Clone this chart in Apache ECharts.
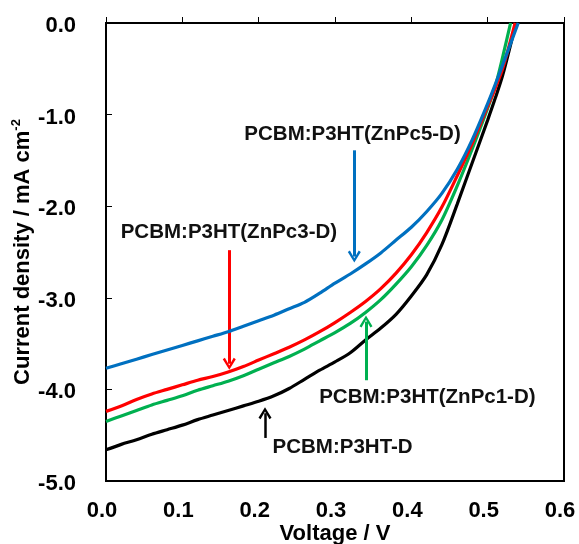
<!DOCTYPE html>
<html>
<head>
<meta charset="utf-8">
<script src="https://cdn.jsdelivr.net/npm/echarts@6/dist/echarts.min.js"></script>
<style>html,body{margin:0;padding:0;background:#fff}#c{width:579px;height:544px}</style>
</head>
<body>
<div id="c"></div>
<script>
// Voltage grid (V)
const voltage = [0,0.02,0.04,0.06,0.08,0.10,0.12,0.14,0.16,0.18,0.20,0.22,0.24,0.26,0.28,0.30,0.32,0.34,0.36,0.38,0.40,0.42,0.44,0.46,0.48,0.50,0.51,0.52];
// Current density (mA cm-2)
const jZnPc5 = [-3.77,-3.72,-3.67,-3.62,-3.57,-3.52,-3.47,-3.42,-3.37,-3.31,-3.25,-3.19,-3.12,-3.05,-2.95,-2.84,-2.74,-2.63,-2.51,-2.37,-2.23,-2.06,-1.86,-1.60,-1.27,-0.88,-0.67,-0.45];
const jZnPc3 = [-4.24,-4.18,-4.11,-4.05,-4.00,-3.95,-3.90,-3.86,-3.81,-3.75,-3.68,-3.61,-3.54,-3.46,-3.37,-3.27,-3.16,-3.04,-2.90,-2.73,-2.53,-2.29,-2.01,-1.67,-1.31,-0.91,-0.71,-0.49];
const jZnPc1 = [-4.35,-4.29,-4.23,-4.17,-4.12,-4.07,-4.01,-3.96,-3.91,-3.85,-3.78,-3.71,-3.64,-3.56,-3.47,-3.38,-3.28,-3.16,-3.02,-2.85,-2.66,-2.43,-2.15,-1.78,-1.37,-0.93,-0.69,-0.36];
const jP3HT  = [-4.66,-4.60,-4.55,-4.49,-4.44,-4.39,-4.33,-4.28,-4.23,-4.18,-4.13,-4.07,-3.99,-3.89,-3.79,-3.70,-3.60,-3.46,-3.33,-3.18,-2.98,-2.75,-2.42,-1.98,-1.52,-1.06,-0.82,-0.56];
// open-circuit voltages (J = 0)
const vocZnPc5 = 0.540, vocZnPc3 = 0.536, vocZnPc1 = 0.530, vocP3HT = 0.537;

const seriesNames = ['PCBM:P3HT-D','PCBM:P3HT(ZnPc1-D)','PCBM:P3HT(ZnPc3-D)','PCBM:P3HT(ZnPc5-D)'];
const seriesColors = ['#000000','#00B050','#FF0000','#0070C0'];

// annotation labels (data coordinates)
const labelText = ['PCBM:P3HT(ZnPc5-D)','PCBM:P3HT(ZnPc3-D)','PCBM:P3HT(ZnPc1-D)','PCBM:P3HT-D'];
const labelV = [0.323, 0.161, 0.421, 0.310];
const labelJ = [-1.22, -2.29, -4.09, -4.63];
// arrows: start and tip in data coordinates
const arrowV = [0.3253, 0.1615, 0.3406, 0.2083];
const arrowJStart = [-1.39, -2.48, -3.90, -4.53];
const arrowJTip = [-2.55, -3.72, -3.26, -4.26];
const arrowColors = ['#0070C0','#FF0000','#00B050','#000000'];

const xTicks = [0,0.1,0.2,0.3,0.4,0.5,0.6];
const yTicks = [0,-1,-2,-3,-4,-5];

function pairs(j, voc){
  const d = voltage.map((v,i)=>[v,j[i]]);
  d.push([voc,0]);
  return d;
}
const allJ = [jP3HT, jZnPc1, jZnPc3, jZnPc5];
const allVoc = [vocP3HT, vocZnPc1, vocZnPc3, vocZnPc5];

const chevron = 'path://M5,0 L10,9 L8.4,10.2 L5,3.6 L1.6,10.2 L0,9 Z';
const FONT = 'Liberation Sans, Arial, sans-serif';

const series = allJ.map((j,k)=>({
  type:'line', name:seriesNames[k], data:pairs(j, allVoc[k]),
  showSymbol:false, smooth:0.3, clip:true,
  lineStyle:{color:seriesColors[k], width:3.2},
  z: 3+k
}));

series.push({
  type:'scatter', symbolSize:0, silent:true, z:10,
  itemStyle:{color:'#000', opacity:1},
  data: labelText.map((t,i)=>({value:[labelV[i],labelJ[i]], name:t})),
  label:{show:true, position:'inside', formatter:p=>p.name,
    fontFamily:FONT, fontWeight:'bold', fontSize:20.5, color:'#111',
    textBorderWidth:0, textBorderColor:'transparent', opacity:1},
  markLine:{
    silent:true, symbol:['none', chevron], symbolSize:[13,12],
    label:{show:false},
    data: arrowV.map((v,i)=>[
      {coord:[v,arrowJStart[i]], lineStyle:{color:arrowColors[i], width: i===3?2.5:3, type:'solid', opacity:1}, itemStyle:{color:arrowColors[i]}},
      {coord:[v,arrowJTip[i]]}
    ])
  }
});

const chart = echarts.init(document.getElementById('c'), null, {renderer:'canvas'});
chart.setOption({
  animation:false,
  backgroundColor:'#ffffff',
  grid:{left:106, right:15, top:23, bottom:63, outerBoundsMode:'none', containLabel:false,
    show:true, borderColor:'#000', borderWidth:2, backgroundColor:'transparent'},
  xAxis:{
    type:'value', min:0, max:0.6, interval:0.1,
    name:'Voltage / V', nameLocation:'middle', nameGap:42, nameMoveOverlap:false,
    nameTextStyle:{fontFamily:FONT, fontWeight:'bold', fontSize:22, color:'#000'},
    axisLine:{show:true, lineStyle:{color:'#000', width:2}},
    axisTick:{show:true, inside:true, length:6, lineStyle:{color:'#000', width:1}},
    splitLine:{show:false},
    axisLabel:{margin:19, padding:[0,8,0,0], fontFamily:FONT, fontWeight:'bold', fontSize:22, color:'#000',
      formatter:v=>{const t=xTicks.find(x=>Math.abs(x-v)<1e-9); return (t===undefined?v:t).toFixed(1);}},
  },
  yAxis:{
    type:'value', min:-5, max:0, interval:1,
    name:'Current density / mA cm{sup|-2}', nameLocation:'middle', nameGap:71, nameMoveOverlap:false,
    nameTextStyle:{fontFamily:FONT, fontWeight:'bold', fontSize:22, color:'#000',
      rich:{sup:{fontFamily:FONT, fontWeight:'bold', fontSize:13, color:'#000', padding:[0,0,12,0]}}},
    axisLine:{show:true, lineStyle:{color:'#000', width:2}},
    axisTick:{show:true, inside:true, length:6, lineStyle:{color:'#000', width:1}},
    splitLine:{show:false},
    axisLabel:{margin:30, fontFamily:FONT, fontWeight:'bold', fontSize:22, color:'#000',
      rich:{a:{fontFamily:FONT, fontWeight:'bold', fontSize:22, color:'#000', padding:[6,0,0,0]}},
      formatter:v=>{const t=yTicks.find(y=>Math.abs(y-v)<1e-9); return '{a|' + (t===undefined?v:t).toFixed(1) + '}';}},
  },
  series: series
});
</script>
</body>
</html>
